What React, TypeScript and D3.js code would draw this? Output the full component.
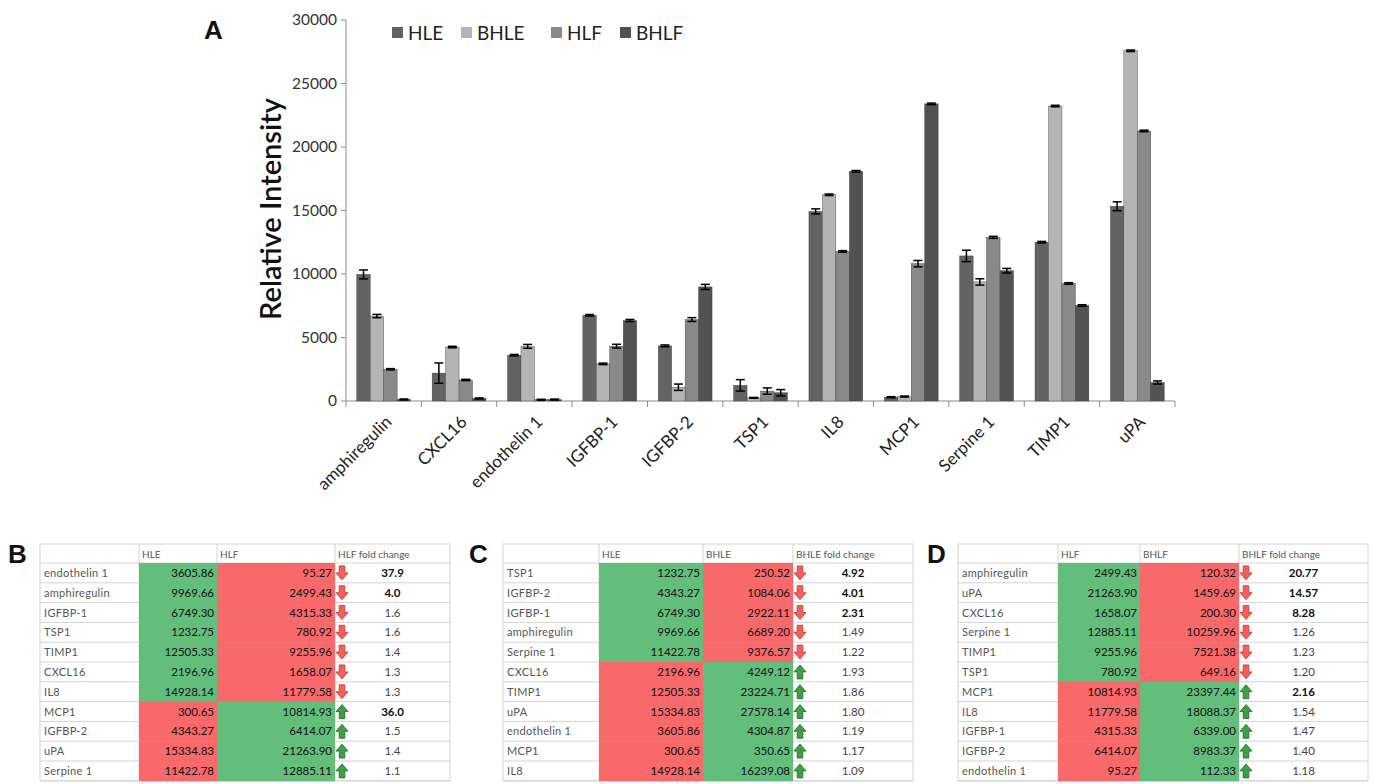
import React from "react";
import * as d3 from "d3";

// panel A data (values match the tables below)
const categories = ["amphiregulin", "CXCL16", "endothelin 1", "IGFBP-1", "IGFBP-2", "TSP1", "IL8", "MCP1", "Serpine 1", "TIMP1", "uPA"];
const seriesNames = ["HLE", "BHLE", "HLF", "BHLF"];
const hle = [9969.66, 2196.96, 3605.86, 6749.3, 4343.27, 1232.75, 14928.14, 300.65, 11422.78, 12505.33, 15334.83];
const bhle = [6689.2, 4249.12, 4304.87, 2922.11, 1084.06, 250.52, 16239.08, 350.65, 9376.57, 23224.71, 27578.14];
const hlf = [2499.43, 1658.07, 95.27, 4315.33, 6414.07, 780.92, 11779.58, 10814.93, 12885.11, 9255.96, 21263.9];
const bhlf = [120.32, 200.3, 112.33, 6339.0, 8983.37, 649.16, 18088.37, 23397.44, 10259.96, 7521.38, 1459.69];
const hleErr = [350, 800, 60, 60, 70, 450, 200, 40, 450, 60, 350];
const bhleErr = [130, 60, 150, 60, 250, 30, 60, 40, 250, 60, 60];
const hlfErr = [50, 50, 40, 150, 150, 250, 60, 250, 80, 60, 60];
const bhlfErr = [40, 40, 40, 80, 200, 250, 60, 60, 180, 60, 120];
const yTicks = [0, 5000, 10000, 15000, 20000, 25000, 30000];
const seriesColors = ["#636363", "#b4b4b4", "#898989", "#525252"];

// panel B
const bNames = ["endothelin 1", "amphiregulin", "IGFBP-1", "TSP1", "TIMP1", "CXCL16", "IL8", "MCP1", "IGFBP-2", "uPA", "Serpine 1"];
const bCol1 = [3605.86, 9969.66, 6749.3, 1232.75, 12505.33, 2196.96, 14928.14, 300.65, 4343.27, 15334.83, 11422.78];
const bCol2 = [95.27, 2499.43, 4315.33, 780.92, 9255.96, 1658.07, 11779.58, 10814.93, 6414.07, 21263.9, 12885.11];
const bFold = [37.9, 4.0, 1.6, 1.6, 1.4, 1.3, 1.3, 36.0, 1.5, 1.4, 1.1];
// panel C
const cNames = ["TSP1", "IGFBP-2", "IGFBP-1", "amphiregulin", "Serpine 1", "CXCL16", "TIMP1", "uPA", "endothelin 1", "MCP1", "IL8"];
const cCol1 = [1232.75, 4343.27, 6749.3, 9969.66, 11422.78, 2196.96, 12505.33, 15334.83, 3605.86, 300.65, 14928.14];
const cCol2 = [250.52, 1084.06, 2922.11, 6689.2, 9376.57, 4249.12, 23224.71, 27578.14, 4304.87, 350.65, 16239.08];
const cFold = [4.92, 4.01, 2.31, 1.49, 1.22, 1.93, 1.86, 1.8, 1.19, 1.17, 1.09];
// panel D
const dNames = ["amphiregulin", "uPA", "CXCL16", "Serpine 1", "TIMP1", "TSP1", "MCP1", "IL8", "IGFBP-1", "IGFBP-2", "endothelin 1"];
const dCol1 = [2499.43, 21263.9, 1658.07, 12885.11, 9255.96, 780.92, 10814.93, 11779.58, 4315.33, 6414.07, 95.27];
const dCol2 = [120.32, 1459.69, 200.3, 10259.96, 7521.38, 649.16, 23397.44, 18088.37, 6339.0, 8983.37, 112.33];
const dFold = [20.77, 14.57, 8.28, 1.26, 1.23, 1.2, 2.16, 1.54, 1.47, 1.4, 1.18];

const FONT = "Lato, 'Open Sans', sans-serif";
const GREEN = "#63be7b";
const RED = "#f8696b";

const Arrow = ({ cx, cy, up }: { cx: number; cy: number; up: boolean }) => {
  // block arrow, pointing down by default
  const p = "M-2.8,-7 L2.8,-7 L2.8,0 L6,0 L0,7 L-6,0 L-2.8,0 Z";
  return (
    <path
      d={p}
      transform={`translate(${cx},${cy}) ${up ? "scale(1,-1)" : ""}`}
      fill={up ? "#3f9f45" : "#f2605a"}
      stroke={up ? "#1f6a26" : "#c8342e"}
      strokeWidth={0.8}
    />
  );
};

const Table = ({ letter, letterX, x0, widths, headers, names, col1, col2, fold, digits }: any) => {
  const top = 544;
  const headH = 19;
  const rowH = 19.8;
  const xs = [x0];
  widths.forEach((w: number, i: number) => xs.push(xs[i] + w));
  const totalW = xs[4] - x0;
  const bottom = top + headH + names.length * rowH;
  const rowY = (i: number) => top + headH + i * rowH;
  return (
    <g fontFamily={FONT}>
      <text x={letterX} y={563} fontFamily="Arial, 'Liberation Sans', sans-serif" fontWeight="bold" fontSize={26} fill="#111">
        {letter}
      </text>
      <rect x={x0} y={top} width={totalW} height={bottom - top} fill="#fff" stroke="#d4d4d4" />
      {d3.range(names.length + 1).map((i) => (
        <line key={"h" + i} x1={x0} x2={xs[4]} y1={rowY(i)} y2={rowY(i)} stroke="#d4d4d4" />
      ))}
      {xs.slice(1, 4).map((x: number, i: number) => (
        <line key={"v" + i} x1={x} x2={x} y1={top} y2={bottom} stroke="#d4d4d4" />
      ))}
      {headers.map((h: string, i: number) => (
        <text key={h + i} x={xs[i + 1] + 3} y={top + 14} fontSize={10} fill="#555">
          {h}
        </text>
      ))}
      {names.map((n: string, i: number) => {
        const up = col2[i] > col1[i];
        const y = rowY(i);
        return (
          <g key={n}>
            <rect x={xs[1]} y={y} width={widths[1]} height={rowH + 0.5} fill={up ? RED : GREEN} />
            <rect x={xs[2]} y={y} width={widths[2]} height={rowH + 0.5} fill={up ? GREEN : RED} />
            <text x={xs[0] + 4} y={y + 14} fontSize={11} fill="#555" letterSpacing={0.3}>
              {n}
            </text>
            <text x={xs[2] - 3} y={y + 14} fontSize={11.5} fill="#111" textAnchor="end">
              {col1[i].toFixed(2)}
            </text>
            <text x={xs[3] - 3} y={y + 14} fontSize={11.5} fill="#111" textAnchor="end">
              {col2[i].toFixed(2)}
            </text>
            <Arrow cx={xs[3] + 7} cy={y + rowH / 2} up={up} />
            <text
              x={(xs[3] + xs[4]) / 2}
              y={y + 14}
              fontSize={11.5}
              textAnchor="middle"
              fill={fold[i] >= 2 ? "#111" : "#444"}
              fontWeight={fold[i] >= 2 ? "bold" : "normal"}
            >
              {fold[i].toFixed(digits)}
            </text>
          </g>
        );
      })}
    </g>
  );
};

const App = () => {
  const x = d3.scaleBand<string>().domain(categories).range([346, 1175]).padding(0);
  const inner = d3.scaleBand<string>().domain(seriesNames).range([0, x.bandwidth()]).paddingOuter(0.8);
  const y = d3.scaleLinear().domain([0, 30000]).range([401, 20]);
  const values = [hle, bhle, hlf, bhlf];
  const errs = [hleErr, bhleErr, hlfErr, bhlfErr];
  const legendX = [392, 461, 551, 620];

  return (
    <svg width={1373} height={784} style={{ position: "absolute", left: 0, top: 0, background: "#fff" }}>
      <rect width={1373} height={784} fill="#fff" />
      {/* panel A */}
      <text x={204} y={39} fontFamily="Arial, 'Liberation Sans', sans-serif" fontWeight="bold" fontSize={26} fill="#111">
        A
      </text>
      <text
        transform="translate(281,209) rotate(-90)"
        textAnchor="middle"
        fontFamily={FONT}
        fontSize={29}
        fontWeight={600}
        fill="#111"
      >
        Relative Intensity
      </text>
      <line x1={346} x2={346} y1={y(30000)} y2={y(0)} stroke="#8c8c8c" />
      {yTicks.map((t) => (
        <g key={t}>
          <line x1={341} x2={346} y1={y(t)} y2={y(t)} stroke="#8c8c8c" />
          <text x={337} y={y(t) + 5} textAnchor="end" fontFamily={FONT} fontSize={15.5} fill="#333">
            {t}
          </text>
        </g>
      ))}
      <line x1={346} x2={1175} y1={y(0)} y2={y(0)} stroke="#8c8c8c" />
      {categories.concat([""]).map((c, i) => {
        const tx = 346 + i * x.step();
        return <line key={"t" + i} x1={tx} x2={tx} y1={y(0)} y2={y(0) + 6} stroke="#8c8c8c" />;
      })}
      {categories.map((c, ci) => (
        <g key={c}>
          {seriesNames.map((s, si) => {
            const v = values[si][ci];
            const e = errs[si][ci];
            const bx = (x(c) as number) + (inner(s) as number);
            const bw = inner.bandwidth();
            const cx = bx + bw / 2;
            return (
              <g key={s}>
                <rect x={bx} y={y(v)} width={bw} height={y(0) - y(v)} fill={seriesColors[si]} stroke="#3c3c3c" strokeWidth={0.4} />
                <line x1={cx} x2={cx} y1={y(v + e)} y2={y(Math.max(0, v - e))} stroke="#000" strokeWidth={1.5} />
                <line x1={cx - 4.5} x2={cx + 4.5} y1={y(v + e)} y2={y(v + e)} stroke="#000" strokeWidth={1.5} />
                <line x1={cx - 4.5} x2={cx + 4.5} y1={y(Math.max(0, v - e))} y2={y(Math.max(0, v - e))} stroke="#000" strokeWidth={1.5} />
              </g>
            );
          })}
          <text
            transform={`translate(${(x(c) as number) + x.bandwidth() / 2 + 9},${y(0) + 22}) rotate(-45)`}
            textAnchor="end"
            fontFamily={FONT}
            fontSize={17}
            fill="#222"
          >
            {c}
          </text>
        </g>
      ))}
      {seriesNames.map((s, i) => (
        <g key={s}>
          <rect x={legendX[i]} y={27} width={11} height={11} fill={seriesColors[i]} />
          <text x={legendX[i] + 16} y={40} fontFamily={FONT} fontSize={19} fill="#222">
            {s}
          </text>
        </g>
      ))}

      <Table letter="B" letterX={8} x0={40} widths={[99, 78, 118, 115]} headers={["HLE", "HLF", "HLF fold change"]}
        names={bNames} col1={bCol1} col2={bCol2} fold={bFold} digits={1} />
      <Table letter="C" letterX={469} x0={503} widths={[96, 104, 90, 120]} headers={["HLE", "BHLE", "BHLE fold change"]}
        names={cNames} col1={cCol1} col2={cCol2} fold={cFold} digits={2} />
      <Table letter="D" letterX={927} x0={958} widths={[100, 82, 99, 129]} headers={["HLF", "BHLF", "BHLF fold change"]}
        names={dNames} col1={dCol1} col2={dCol2} fold={dFold} digits={2} />
    </svg>
  );
};

export default App;
